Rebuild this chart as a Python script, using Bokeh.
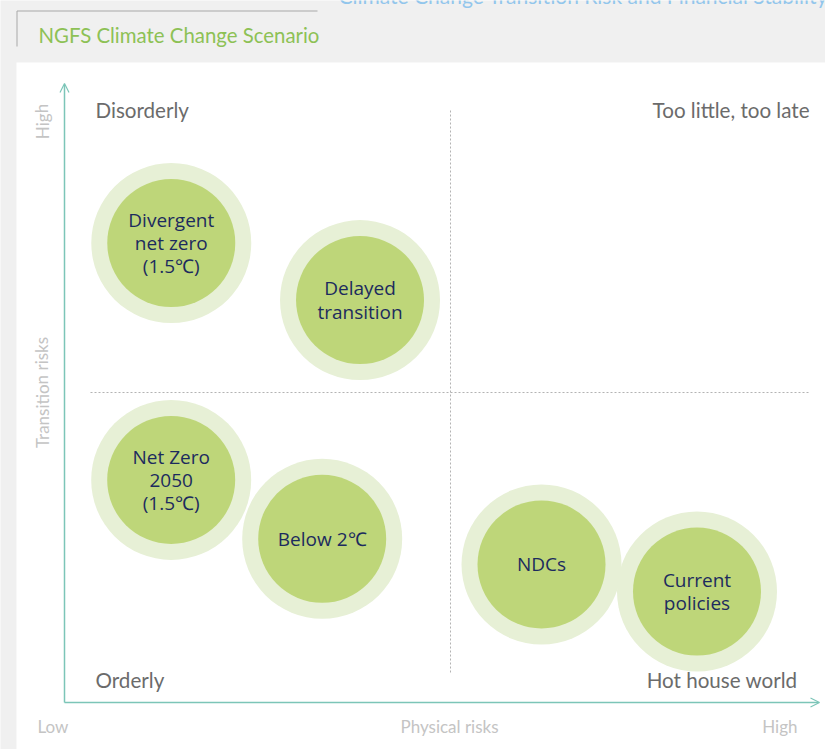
from bokeh.plotting import figure
from bokeh.models import Range1d, Arrow, OpenHead, ColumnDataSource
from bokeh.core.properties import value
from bokeh.embed import file_html
from bokeh.resources import INLINE

# ---------------- data ----------------
scenarios = ["Divergent\nnet zero\n(1.5℃)", "Delayed\ntransition", "Net Zero\n2050\n(1.5℃)",
             "Below 2℃", "NDCs", "Current\npolicies"]
physical_risk = [1.383, 3.828, 1.382, 3.338, 6.179, 8.193]
transition_risk = [7.41, 6.49, 3.59, 2.64, 2.226, 1.79]

quadrant_labels = ["Disorderly", "Too little, too late", "Orderly", "Hot house world"]
x_axis_labels = ["Low", "Physical risks", "High"]
y_axis_labels = ["High", "Transition risks"]
chart_title = "NGFS Climate Change Scenario"
page_title = "Climate Change Transition Risk and Financial Stability"

# ---------------- layout helpers (canvas pixel -> data) ----------------
W, H = 825, 749
def X(px):
    return (px - 64) * 5 / 386.0
def Y(py):
    return (702 - py) * 5 / 310.0

TEAL = "#7cc5b8"
OUTER = "#e7f0d6"
INNER = "#bed679"
NAVY = "#1c2b5e"
QGRAY = "#6b6b6b"
LGRAY = "#c4c4c4"
BG = "#f0f0f0"

p = figure(width=W, height=H, output_backend="svg", toolbar_location=None,
           x_range=Range1d(X(0), X(W)), y_range=Range1d(Y(H), Y(0)),
           x_axis_type=None, y_axis_type=None, min_border=0,
           background_fill_color=BG, border_fill_color=BG, outline_line_color=None)
p.xgrid.visible = False
p.ygrid.visible = False

# white panel
p.quad(left=[X(16)], right=[X(840)], top=[Y(62)], bottom=[Y(760)],
       fill_color="white", line_color=None)

# header tab lines
p.segment(x0=[X(16.5), X(16.5)], y0=[Y(10.5), Y(10.5)], x1=[X(317), X(16.5)], y1=[Y(10.5), Y(46)],
          line_color="#a8a8a8", line_width=1)

# page title (cut at top, as in the source) and chart title
p.text(x=[X(338)], y=[Y(-5.5)], text=[page_title], text_font=value("Lato"), text_font_size="21px",
       text_color="#92c6ec", text_align="left", text_baseline="middle")
p.text(x=[X(38)], y=[Y(34.7)], text=[chart_title], text_font=value("Lato"), text_font_size="20.4px",
       text_color="#8dc155", text_align="left", text_baseline="middle")

# dashed quadrant dividers
p.segment(x0=[5, X(90)], y0=[Y(110), 5], x1=[5, X(810)], y1=[Y(673), 5],
          line_color="#b3b3b3", line_width=1, line_dash="2 2")

# axes with arrows
p.add_layout(Arrow(end=OpenHead(size=9, line_color=TEAL, line_width=1.2),
                   x_start=0, y_start=0, x_end=X(819), y_end=0,
                   line_color=TEAL, line_width=1.5))
p.add_layout(Arrow(end=OpenHead(size=9, line_color=TEAL, line_width=1.2),
                   x_start=0, y_start=0, x_end=0, y_end=Y(83),
                   line_color=TEAL, line_width=1.5))

# scenario bubbles
src = ColumnDataSource(dict(x=physical_risk, y=transition_risk, label=scenarios))
p.scatter(x="x", y="y", source=src, size=160, fill_color=OUTER, line_color=None)
p.scatter(x="x", y="y", source=src, size=128, fill_color=INNER, line_color=None)
p.text(x="x", y="y", text="label", source=src, text_font=value("Open Sans"),
       text_font_size="19px", text_color=NAVY, text_align="center", text_baseline="middle",
       text_line_height=0.9)

# quadrant labels
p.text(x=[X(95), X(809), X(95), X(797)], y=[Y(109.5), Y(109.5), Y(679.5), Y(679.5)],
       text=quadrant_labels, text_font=value("Lato"), text_font_size="20.6px",
       text_color=QGRAY, text_align=["left", "right", "left", "right"], text_baseline="middle")

# axis end labels
p.text(x=[X(37), X(449), X(797)], y=[Y(725.5)] * 3, text=x_axis_labels,
       text_font=value("Lato"), text_font_size="17px", text_color=LGRAY,
       text_align=["left", "center", "right"], text_baseline="middle")
p.text(x=[X(41.5), X(41.5)], y=[Y(121), 5], text=y_axis_labels, angle=1.5708,
       text_font=value("Lato"), text_font_size="17px", text_color=LGRAY,
       text_align="center", text_baseline="middle")

html = file_html(p, INLINE)
html = html.replace("<body>", '<body style="margin:0;background-color:%s;">' % BG, 1)
open("out.html", "w").write(html)
